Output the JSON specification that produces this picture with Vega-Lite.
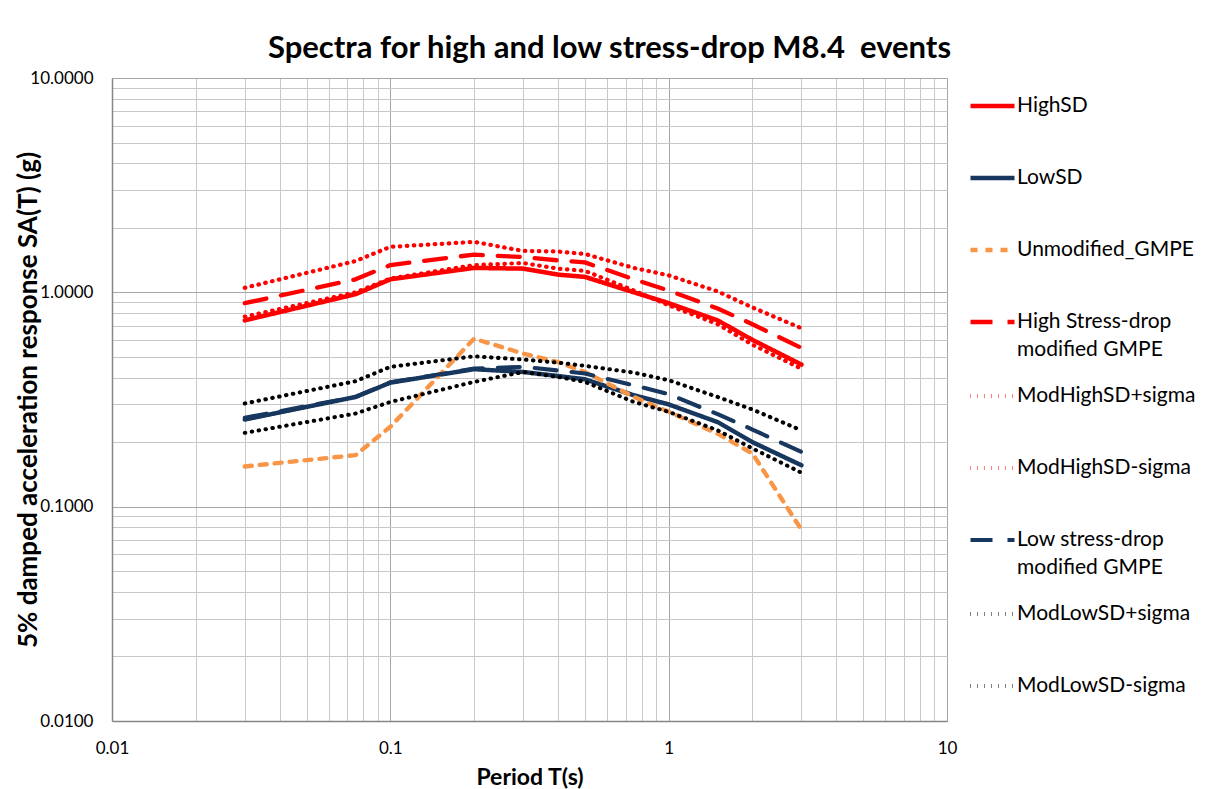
{
  "$schema": "https://vega.github.io/schema/vega-lite/v6.json",
  "width": 835,
  "height": 643,
  "autosize": {"type": "none"},
  "padding": {"left": 112, "top": 78, "right": 263, "bottom": 68},
  "background": "white",
  "config": {"font": "Lato", "view": {"stroke": null}},
  "title": {"text": "Spectra for high and low stress-drop M8.4\u00a0 events", "fontSize": 31, "fontWeight": "bold", "font": "Lato", "color": "#000000", "anchor": "middle", "frame": "group", "dx": 80, "dy": 41, "offset": 21, "baseline": "alphabetic"},
  "data": {"values": [
    {"period": 0.03, "series": "HighSD", "sa": 0.74},
    {"period": 0.075, "series": "HighSD", "sa": 0.98},
    {"period": 0.1, "series": "HighSD", "sa": 1.15},
    {"period": 0.2, "series": "HighSD", "sa": 1.30},
    {"period": 0.3, "series": "HighSD", "sa": 1.29},
    {"period": 0.4, "series": "HighSD", "sa": 1.21},
    {"period": 0.5, "series": "HighSD", "sa": 1.18},
    {"period": 0.75, "series": "HighSD", "sa": 1.00},
    {"period": 1, "series": "HighSD", "sa": 0.89},
    {"period": 1.5, "series": "HighSD", "sa": 0.74},
    {"period": 2, "series": "HighSD", "sa": 0.60},
    {"period": 3, "series": "HighSD", "sa": 0.46},

    {"period": 0.03, "series": "LowSD", "sa": 0.255},
    {"period": 0.075, "series": "LowSD", "sa": 0.325},
    {"period": 0.1, "series": "LowSD", "sa": 0.379},
    {"period": 0.2, "series": "LowSD", "sa": 0.438},
    {"period": 0.3, "series": "LowSD", "sa": 0.425},
    {"period": 0.4, "series": "LowSD", "sa": 0.407},
    {"period": 0.5, "series": "LowSD", "sa": 0.393},
    {"period": 0.75, "series": "LowSD", "sa": 0.331},
    {"period": 1, "series": "LowSD", "sa": 0.300},
    {"period": 1.5, "series": "LowSD", "sa": 0.248},
    {"period": 2, "series": "LowSD", "sa": 0.200},
    {"period": 3, "series": "LowSD", "sa": 0.156},

    {"period": 0.03, "series": "Unmodified_GMPE", "sa": 0.154},
    {"period": 0.075, "series": "Unmodified_GMPE", "sa": 0.174},
    {"period": 0.1, "series": "Unmodified_GMPE", "sa": 0.236},
    {"period": 0.2, "series": "Unmodified_GMPE", "sa": 0.608},
    {"period": 0.3, "series": "Unmodified_GMPE", "sa": 0.518},
    {"period": 0.4, "series": "Unmodified_GMPE", "sa": 0.473},
    {"period": 0.5, "series": "Unmodified_GMPE", "sa": 0.425},
    {"period": 0.75, "series": "Unmodified_GMPE", "sa": 0.325},
    {"period": 1, "series": "Unmodified_GMPE", "sa": 0.277},
    {"period": 1.5, "series": "Unmodified_GMPE", "sa": 0.219},
    {"period": 2, "series": "Unmodified_GMPE", "sa": 0.177},
    {"period": 3, "series": "Unmodified_GMPE", "sa": 0.078},

    {"period": 0.03, "series": "High Stress-drop modified GMPE", "sa": 0.89},
    {"period": 0.075, "series": "High Stress-drop modified GMPE", "sa": 1.15},
    {"period": 0.1, "series": "High Stress-drop modified GMPE", "sa": 1.34},
    {"period": 0.2, "series": "High Stress-drop modified GMPE", "sa": 1.50},
    {"period": 0.3, "series": "High Stress-drop modified GMPE", "sa": 1.46},
    {"period": 0.4, "series": "High Stress-drop modified GMPE", "sa": 1.41},
    {"period": 0.5, "series": "High Stress-drop modified GMPE", "sa": 1.38},
    {"period": 0.75, "series": "High Stress-drop modified GMPE", "sa": 1.15},
    {"period": 1, "series": "High Stress-drop modified GMPE", "sa": 1.02},
    {"period": 1.5, "series": "High Stress-drop modified GMPE", "sa": 0.84},
    {"period": 2, "series": "High Stress-drop modified GMPE", "sa": 0.71},
    {"period": 3, "series": "High Stress-drop modified GMPE", "sa": 0.55},

    {"period": 0.03, "series": "ModHighSD+sigma", "sa": 1.05},
    {"period": 0.075, "series": "ModHighSD+sigma", "sa": 1.40},
    {"period": 0.1, "series": "ModHighSD+sigma", "sa": 1.63},
    {"period": 0.2, "series": "ModHighSD+sigma", "sa": 1.72},
    {"period": 0.3, "series": "ModHighSD+sigma", "sa": 1.56},
    {"period": 0.4, "series": "ModHighSD+sigma", "sa": 1.55},
    {"period": 0.5, "series": "ModHighSD+sigma", "sa": 1.51},
    {"period": 0.75, "series": "ModHighSD+sigma", "sa": 1.30},
    {"period": 1, "series": "ModHighSD+sigma", "sa": 1.20},
    {"period": 1.5, "series": "ModHighSD+sigma", "sa": 1.01},
    {"period": 2, "series": "ModHighSD+sigma", "sa": 0.85},
    {"period": 3, "series": "ModHighSD+sigma", "sa": 0.68},

    {"period": 0.03, "series": "ModHighSD-sigma", "sa": 0.77},
    {"period": 0.075, "series": "ModHighSD-sigma", "sa": 1.00},
    {"period": 0.1, "series": "ModHighSD-sigma", "sa": 1.16},
    {"period": 0.2, "series": "ModHighSD-sigma", "sa": 1.34},
    {"period": 0.3, "series": "ModHighSD-sigma", "sa": 1.37},
    {"period": 0.4, "series": "ModHighSD-sigma", "sa": 1.29},
    {"period": 0.5, "series": "ModHighSD-sigma", "sa": 1.26},
    {"period": 0.75, "series": "ModHighSD-sigma", "sa": 1.02},
    {"period": 1, "series": "ModHighSD-sigma", "sa": 0.87},
    {"period": 1.5, "series": "ModHighSD-sigma", "sa": 0.71},
    {"period": 2, "series": "ModHighSD-sigma", "sa": 0.57},
    {"period": 3, "series": "ModHighSD-sigma", "sa": 0.44},

    {"period": 0.03, "series": "Low stress-drop modified GMPE", "sa": 0.26},
    {"period": 0.075, "series": "Low stress-drop modified GMPE", "sa": 0.325},
    {"period": 0.1, "series": "Low stress-drop modified GMPE", "sa": 0.38},
    {"period": 0.2, "series": "Low stress-drop modified GMPE", "sa": 0.441},
    {"period": 0.3, "series": "Low stress-drop modified GMPE", "sa": 0.449},
    {"period": 0.4, "series": "Low stress-drop modified GMPE", "sa": 0.432},
    {"period": 0.5, "series": "Low stress-drop modified GMPE", "sa": 0.418},
    {"period": 0.75, "series": "Low stress-drop modified GMPE", "sa": 0.368},
    {"period": 1, "series": "Low stress-drop modified GMPE", "sa": 0.335},
    {"period": 1.5, "series": "Low stress-drop modified GMPE", "sa": 0.270},
    {"period": 2, "series": "Low stress-drop modified GMPE", "sa": 0.229},
    {"period": 3, "series": "Low stress-drop modified GMPE", "sa": 0.180},

    {"period": 0.03, "series": "ModLowSD+sigma", "sa": 0.303},
    {"period": 0.075, "series": "ModLowSD+sigma", "sa": 0.385},
    {"period": 0.1, "series": "ModLowSD+sigma", "sa": 0.449},
    {"period": 0.2, "series": "ModLowSD+sigma", "sa": 0.503},
    {"period": 0.3, "series": "ModLowSD+sigma", "sa": 0.486},
    {"period": 0.4, "series": "ModLowSD+sigma", "sa": 0.470},
    {"period": 0.5, "series": "ModLowSD+sigma", "sa": 0.454},
    {"period": 0.75, "series": "ModLowSD+sigma", "sa": 0.422},
    {"period": 1, "series": "ModLowSD+sigma", "sa": 0.389},
    {"period": 1.5, "series": "ModLowSD+sigma", "sa": 0.325},
    {"period": 2, "series": "ModLowSD+sigma", "sa": 0.284},
    {"period": 3, "series": "ModLowSD+sigma", "sa": 0.227},

    {"period": 0.03, "series": "ModLowSD-sigma", "sa": 0.221},
    {"period": 0.075, "series": "ModLowSD-sigma", "sa": 0.272},
    {"period": 0.1, "series": "ModLowSD-sigma", "sa": 0.308},
    {"period": 0.2, "series": "ModLowSD-sigma", "sa": 0.382},
    {"period": 0.3, "series": "ModLowSD-sigma", "sa": 0.425},
    {"period": 0.4, "series": "ModLowSD-sigma", "sa": 0.403},
    {"period": 0.5, "series": "ModLowSD-sigma", "sa": 0.382},
    {"period": 0.75, "series": "ModLowSD-sigma", "sa": 0.308},
    {"period": 1, "series": "ModLowSD-sigma", "sa": 0.277},
    {"period": 1.5, "series": "ModLowSD-sigma", "sa": 0.227},
    {"period": 2, "series": "ModLowSD-sigma", "sa": 0.187},
    {"period": 3, "series": "ModLowSD-sigma", "sa": 0.144}
  ]},
  "layer": [
    {
      "mark": {"type": "line", "strokeCap": "round", "strokeJoin": "round", "clip": true},
      "encoding": {
        "x": {"field": "period", "type": "quantitative",
          "scale": {"type": "log", "domain": [0.01, 10], "nice": false},
          "axis": {"orient": "bottom", "values": [0.01, 0.1, 1, 10], "format": "~g", "grid": true, "gridColor": "#A6A6A6", "gridWidth": 1,
            "domain": true, "domainColor": "#868686", "domainWidth": 1.5, "ticks": false, "tickSize": 0,
            "labelFont": "Lato", "labelFontSize": 17, "labelColor": "#000000", "labelPadding": 19, "labelFlush": false, "labelOverlap": false,
            "title": "Period T(s)", "titleFont": "Lato", "titleFontSize": 23, "titleFontWeight": "bold", "titleColor": "#000000", "titleY": 56, "titleBaseline": "middle"}},
        "y": {"field": "sa", "type": "quantitative",
          "scale": {"type": "log", "domain": [0.01, 10], "nice": false},
          "axis": {"orient": "left", "values": [0.01, 0.1, 1, 10], "format": ".4f", "grid": true, "gridColor": "#A6A6A6", "gridWidth": 1,
            "domain": true, "domainColor": "#868686", "domainWidth": 1.5, "ticks": false, "tickSize": 0,
            "labelFont": "Lato", "labelFontSize": 17, "labelColor": "#000000", "labelPadding": 19, "labelFlush": false, "labelOverlap": false,
            "title": "5% damped acceleration response SA(T) (g)", "titleFont": "Lato", "titleFontSize": 26, "titleFontWeight": "bold", "titleColor": "#000000", "titleX": -84, "titleBaseline": "middle"}},
        "color": {"field": "series", "type": "nominal",
          "scale": {"domain": ["HighSD", "LowSD", "Unmodified_GMPE", "High Stress-drop modified GMPE", "ModHighSD+sigma", "ModHighSD-sigma", "Low stress-drop modified GMPE", "ModLowSD+sigma", "ModLowSD-sigma"],
                    "range": ["#FF0000", "#17375E", "#F79646", "#FF0000", "#FF0000", "#FF0000", "#17375E", "#000000", "#000000"]},
          "legend": {"title": null, "orient": "none", "legendX": 856, "legendY": -8, "symbolType": "stroke", "symbolSize": 1936,
            "labelFont": "Lato", "labelFontSize": 21, "labelColor": "#000000", "labelOffset": 0, "rowPadding": 0, "clipHeight": 72, "padding": 0, "labelLimit": 250,
            "labelExpr": "datum.label == 'High Stress-drop modified GMPE' ? ['High Stress-drop', 'modified GMPE'] : datum.label == 'Low stress-drop modified GMPE' ? ['Low stress-drop', 'modified GMPE'] : datum.label",
            "encode": {"labels": {"update": {"lineHeight": {"value": 28}}}}}},
        "strokeDash": {"field": "series", "type": "nominal",
          "scale": {"domain": ["HighSD", "LowSD", "Unmodified_GMPE", "High Stress-drop modified GMPE", "ModHighSD+sigma", "ModHighSD-sigma", "Low stress-drop modified GMPE", "ModLowSD+sigma", "ModLowSD-sigma"],
                    "range": [[1, 0], [1, 0], [7, 8], [22, 15], [0.5, 6.5], [0.5, 6.5], [22, 15], [0.5, 6.5], [0.5, 6.5]]}},
        "strokeWidth": {"field": "series", "type": "nominal",
          "scale": {"domain": ["HighSD", "LowSD", "Unmodified_GMPE", "High Stress-drop modified GMPE", "ModHighSD+sigma", "ModHighSD-sigma", "Low stress-drop modified GMPE", "ModLowSD+sigma", "ModLowSD-sigma"],
                    "range": [4.5, 4, 3, 3.5, 3, 3, 3.5, 3, 3]}}
      }
    },
    {
      "mark": {"type": "point", "opacity": 0},
      "encoding": {
        "x": {"field": "period", "type": "quantitative",
          "scale": {"type": "log", "domain": [0.01, 10], "nice": false},
          "axis": {"orient": "top", "values": [0.02, 0.03, 0.04, 0.05, 0.06, 0.07, 0.08, 0.09, 0.2, 0.3, 0.4, 0.5, 0.6, 0.7, 0.8, 0.9, 2, 3, 4, 5, 6, 7, 8, 9],
            "grid": true, "gridColor": "#C8C8C8", "gridWidth": 1, "domain": false, "ticks": false, "labels": false, "title": null, "minExtent": 0, "maxExtent": 0, "offset": 0}},
        "y": {"field": "sa", "type": "quantitative",
          "scale": {"type": "log", "domain": [0.01, 10], "nice": false},
          "axis": {"orient": "right", "values": [0.02, 0.03, 0.04, 0.05, 0.06, 0.07, 0.08, 0.09, 0.2, 0.3, 0.4, 0.5, 0.6, 0.7, 0.8, 0.9, 2, 3, 4, 5, 6, 7, 8, 9],
            "grid": true, "gridColor": "#C8C8C8", "gridWidth": 1, "domain": false, "ticks": false, "labels": false, "title": null, "minExtent": 0, "maxExtent": 0}}
      }
    }
  ],
  "resolve": {"axis": {"x": "independent", "y": "independent"}}
}
